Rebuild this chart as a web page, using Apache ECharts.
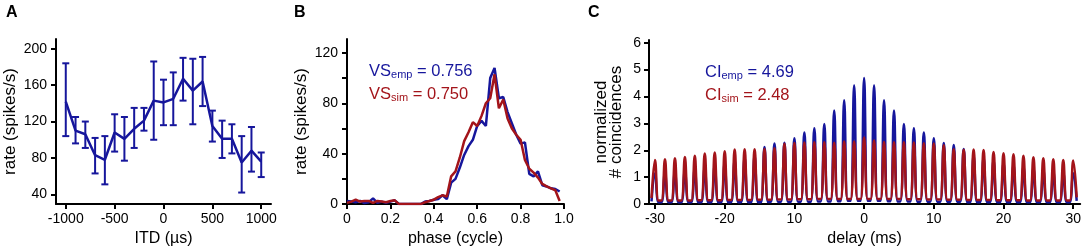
<!DOCTYPE html>
<html>
<head>
<meta charset="utf-8">
<script src="https://cdn.jsdelivr.net/npm/echarts@6/dist/echarts.min.js"></script>
<style>
  html, body { margin: 0; padding: 0; background: #fff; }
  #chart { width: 1084px; height: 252px; }
</style>
</head>
<body>
<div id="chart"></div>
<script>
// panel A: rate vs ITD with error bars
const itd = [-1000, -900, -800, -700, -600, -500, -400, -300, -200, -100, 0, 100, 200, 300, 400, 500, 600, 700, 800, 900, 1000]
const itdRate = [142, 110, 106, 83, 78, 108, 101, 112, 121, 143, 141, 145, 167, 154, 164, 115, 101, 101, 75, 88, 76]
const itdHigh = [184, 125, 120, 102, 104, 128, 125, 135, 135, 186, 166, 174, 190, 189, 191, 132, 121, 117, 104, 114, 86]
const itdLow = [104, 96, 91, 63, 51, 87, 77, 91, 110, 100, 116, 116, 143, 117, 137, 98, 80, 85, 42, 65, 59]

// panel B: phase histograms
const phase = [0, 0.02, 0.04, 0.06, 0.08, 0.1, 0.12, 0.14, 0.16, 0.18, 0.2, 0.22, 0.24, 0.26, 0.28, 0.3, 0.32, 0.34,
  0.36, 0.38, 0.4, 0.42, 0.44, 0.46, 0.48, 0.5, 0.52, 0.54, 0.56, 0.58, 0.6, 0.62, 0.64, 0.66, 0.68, 0.7,
  0.72, 0.74, 0.76, 0.78, 0.8, 0.82, 0.84, 0.86, 0.88, 0.9, 0.92, 0.94, 0.96, 0.98]
const empRate = [2.5, 2, 1.5, 2.5, 0.8, 1.5, 4.5, 1, 2, 1, 2, 3, 0, 0, 0, 0, 0, 0,
  2, 2.5, 3.5, 4, 7, 4, 17, 20, 29, 39, 46, 51, 62, 66, 62, 100, 108, 84,
  85, 73, 64, 55, 48, 49, 24, 22, 26, 15, 14, 12.5, 12, 10]
const simRate = [1, 2, 3.5, 2, 2.5, 2.5, 1, 2.5, 2, 1.5, 2.5, 3, 0, 0, 0, 0, 0, 0,
  1.5, 2.5, 3.5, 5.5, 7, 6, 22, 26, 37, 50, 57, 65, 62, 70, 80, 84, 103, 76,
  83, 68, 60, 55, 51, 35, 28, 25, 21, 16, 14, 12.5, 11, 2.5]

// panel C: coincidence peaks (ms) and their heights
const cPeakDelay = [-30, -28.57, -27.14, -25.71, -24.29, -22.86, -21.43, -20, -18.57, -17.14, -15.71,
  -14.29, -12.86, -11.43, -10, -8.57, -7.14, -5.71, -4.29, -2.86, -1.43, 0,
  1.43, 2.86, 4.29, 5.71, 7.14, 8.57, 10, 11.43, 12.86, 14.29, 15.71,
  17.14, 18.57, 20, 21.43, 22.86, 24.29, 25.71, 27.14, 28.57, 30]
const empPeak = [1.15, 1.18, 1.22, 1.27, 1.32, 1.38, 1.45, 1.52, 1.62, 1.72, 1.8,
  2.12, 2.25, 2.28, 2.45, 2.66, 2.82, 2.98, 3.48, 3.86, 4.42, 4.69,
  4.42, 3.86, 3.48, 2.98, 2.82, 2.66, 2.45, 2.27, 2.2, 2.05, 1.8,
  1.72, 1.62, 1.52, 1.45, 1.38, 1.32, 1.27, 1.22, 1.18, 1.15]
const simPeak = [1.64, 1.67, 1.7, 1.75, 1.8, 1.88, 1.92, 1.96, 2.03, 2.04, 2.04,
  2.05, 2.08, 2.24, 2.27, 2.29, 2.3, 2.3, 2.28, 2.33, 2.33, 2.48,
  2.36, 2.31, 2.3, 2.3, 2.29, 2.26, 2.25, 2.19, 2.04, 2.02, 2.03,
  2.01, 1.94, 1.89, 1.85, 1.8, 1.74, 1.7, 1.67, 1.64, 1.62]
const empTrough = [0.1, 0.07, 0.07, 0.07, 0.07, 0.07, 0.07, 0.07, 0.07, 0.07, 0.07,
  0.07, 0.08, 0.08, 0.08, 0.09, 0.09, 0.1, 0.1, 0.11, 0.12, 0.12,
  0.12, 0.12, 0.11, 0.1, 0.1, 0.09, 0.09, 0.08, 0.08, 0.08, 0.07,
  0.07, 0.07, 0.07, 0.07, 0.07, 0.07, 0.07, 0.07, 0.07, 0.07, 0.12]
const simTrough = [0.22, 0.13, 0.13, 0.13, 0.13, 0.14, 0.14, 0.14, 0.15, 0.15, 0.15,
  0.16, 0.16, 0.17, 0.17, 0.18, 0.18, 0.19, 0.19, 0.19, 0.19, 0.19,
  0.19, 0.19, 0.19, 0.19, 0.18, 0.18, 0.17, 0.17, 0.16, 0.16, 0.15,
  0.15, 0.15, 0.14, 0.14, 0.14, 0.13, 0.13, 0.13, 0.13, 0.13, 0.25]
const cPeakHalfWidth = 0.5 // half width of a peak at its base, ms

const cTickValues = [-30, -20, -10, 0, 10, 20, 30]
const cTickLabels = ['-30', '-20', '10', '0', '10', '20', '30']

const BLUE = '#16169c'
const RED = '#a3141a'
const FONT = 'Liberation Sans, Arial, Helvetica, sans-serif'

const peakLine = (peaks, troughs) => {
  const pts = []
  cPeakDelay.forEach((d, i) => {
    pts.push([d - cPeakHalfWidth, troughs[i]])
    pts.push([d, peaks[i]])
    pts.push([d + cPeakHalfWidth, troughs[i + 1]])
  })
  return pts
}

const tickStyle = { show: true, length: 5, lineStyle: { color: '#000', width: 2 } }
const xLabel = { color: '#000', fontSize: 14, fontFamily: FONT, margin: 8 }
const yLabel = { color: '#000', fontSize: 14, fontFamily: FONT, margin: 9 }

const axisBase = (extra) => Object.assign({
  type: 'value',
  axisLine: { show: true, onZero: false, lineStyle: { color: '#000', width: 2 } },
  splitLine: { show: false },
  nameLocation: 'middle',
  nameTextStyle: { color: '#000', fontSize: 16, fontFamily: FONT },
}, extra)

const chart = echarts.init(document.getElementById('chart'))

chart.setOption({
  animation: false,
  backgroundColor: '#fff',
  grid: [
    { left: 56, top: 39, width: 215, height: 170 },
    { left: 347, top: 39, width: 217, height: 170 },
    { left: 649, top: 40, width: 433, height: 169 },
  ],
  xAxis: [
    axisBase({
      gridIndex: 0, min: -1100, max: 1100, name: 'ITD (µs)', nameGap: 26,
      axisLabel: { ...xLabel, customValues: [-1000, -500, 0, 500, 1000], formatter: (v) => String(v) },
      axisTick: { ...tickStyle, customValues: [-1000, -500, 0, 500, 1000] },
    }),
    axisBase({
      gridIndex: 1, min: 0, max: 1, name: 'phase (cycle)', nameGap: 26,
      axisLabel: { ...xLabel, customValues: [0, 0.2, 0.4, 0.6, 0.8, 1], formatter: (v) => (v === 0 ? '0' : v.toFixed(1)) },
      axisTick: { ...tickStyle, customValues: [0, 0.2, 0.4, 0.6, 0.8, 1] },
    }),
    axisBase({
      gridIndex: 2, min: -30.86, max: 31, name: 'delay (ms)', nameGap: 26,
      axisLabel: { ...xLabel, customValues: cTickValues, formatter: (v) => cTickLabels[cTickValues.indexOf(Math.round(v))] },
      axisTick: { ...tickStyle, customValues: cTickValues },
    }),
  ],
  yAxis: [
    axisBase({
      gridIndex: 0, min: 29.3, max: 210.7, name: 'rate (spikes/s)', nameGap: 37,
      nameTextStyle: { color: '#000', fontSize: 17, fontFamily: FONT },
      axisLabel: { ...yLabel, customValues: [40, 80, 120, 160, 200] },
      axisTick: { ...tickStyle, customValues: [40, 80, 120, 160, 200] },
    }),
    axisBase({
      gridIndex: 1, min: 0, max: 131, name: 'rate (spikes/s)', nameGap: 37,
      nameTextStyle: { color: '#000', fontSize: 17, fontFamily: FONT },
      axisLabel: { ...yLabel, customValues: [0, 40, 80, 120] },
      axisTick: { ...tickStyle, customValues: [0, 20, 40, 60, 80, 100, 120] },
    }),
    axisBase({
      gridIndex: 2, min: 0, max: 6.1, name: 'normalized\n# coincidences', nameGap: 25,
      nameTextStyle: { color: '#000', fontSize: 17, fontFamily: FONT, lineHeight: 15 },
      axisLabel: { ...yLabel, margin: 8, customValues: [0, 1, 2, 3, 4, 5, 6] },
      axisTick: { ...tickStyle, customValues: [0, 1, 2, 3, 4, 5, 6] },
    }),
  ],
  graphic: [
    { type: 'text', left: 6, top: 5, style: { text: 'A', font: 'bold 16px ' + FONT, fill: '#000' } },
    { type: 'text', left: 294, top: 5, style: { text: 'B', font: 'bold 16px ' + FONT, fill: '#000' } },
    { type: 'text', left: 588, top: 5, style: { text: 'C', font: 'bold 16px ' + FONT, fill: '#000' } },
    {
      type: 'text', left: 369, top: 63,
      style: {
        text: '{a|VS}{b|emp}{a| = 0.756}',
        rich: { a: { fontSize: 16.5, fontFamily: FONT, fill: BLUE }, b: { fontSize: 11, fontFamily: FONT, fill: BLUE, padding: [7, 0, 0, 0] } },
      },
    },
    {
      type: 'text', left: 369, top: 86,
      style: {
        text: '{a|VS}{b|sim}{a| = 0.750}',
        rich: { a: { fontSize: 16.5, fontFamily: FONT, fill: RED }, b: { fontSize: 11, fontFamily: FONT, fill: RED, padding: [7, 0, 0, 0] } },
      },
    },
    {
      type: 'text', left: 705, top: 64,
      style: {
        text: '{a|CI}{b|emp}{a| = 4.69}',
        rich: { a: { fontSize: 16.5, fontFamily: FONT, fill: BLUE }, b: { fontSize: 11, fontFamily: FONT, fill: BLUE, padding: [7, 0, 0, 0] } },
      },
    },
    {
      type: 'text', left: 705, top: 87,
      style: {
        text: '{a|CI}{b|sim}{a| = 2.48}',
        rich: { a: { fontSize: 16.5, fontFamily: FONT, fill: RED }, b: { fontSize: 11, fontFamily: FONT, fill: RED, padding: [7, 0, 0, 0] } },
      },
    },
  ],
  series: [
    {
      type: 'custom',
      xAxisIndex: 0, yAxisIndex: 0,
      data: itd.map((x, i) => [x, itdLow[i], itdHigh[i]]),
      encode: { x: 0, y: [1, 2] },
      renderItem: (params, api) => {
        const lo = api.coord([api.value(0), api.value(1)])
        const hi = api.coord([api.value(0), api.value(2)])
        const cap = 3.5
        const style = { stroke: BLUE, lineWidth: 2 }
        return {
          type: 'group',
          children: [
            { type: 'line', shape: { x1: lo[0], y1: lo[1], x2: hi[0], y2: hi[1] }, style },
            { type: 'line', shape: { x1: lo[0] - cap, y1: lo[1], x2: lo[0] + cap, y2: lo[1] }, style },
            { type: 'line', shape: { x1: hi[0] - cap, y1: hi[1], x2: hi[0] + cap, y2: hi[1] }, style },
          ],
        }
      },
    },
    {
      type: 'line',
      xAxisIndex: 0, yAxisIndex: 0,
      data: itd.map((x, i) => [x, itdRate[i]]),
      showSymbol: false,
      lineStyle: { color: BLUE, width: 2.5 },
    },
    {
      type: 'line',
      xAxisIndex: 1, yAxisIndex: 1,
      data: phase.map((x, i) => [x, empRate[i]]),
      showSymbol: false,
      lineStyle: { color: BLUE, width: 2.5 },
    },
    {
      type: 'line',
      xAxisIndex: 1, yAxisIndex: 1,
      data: phase.map((x, i) => [x, simRate[i]]),
      showSymbol: false,
      lineStyle: { color: RED, width: 2.5 },
    },
    {
      type: 'line',
      xAxisIndex: 2, yAxisIndex: 2,
      data: peakLine(empPeak, empTrough),
      showSymbol: false,
      smooth: 0.4,
      lineStyle: { color: BLUE, width: 2.5 },
    },
    {
      type: 'line',
      xAxisIndex: 2, yAxisIndex: 2,
      data: peakLine(simPeak, simTrough),
      showSymbol: false,
      smooth: 0.4,
      lineStyle: { color: RED, width: 2.5 },
    },
  ],
})
</script>
</body>
</html>
